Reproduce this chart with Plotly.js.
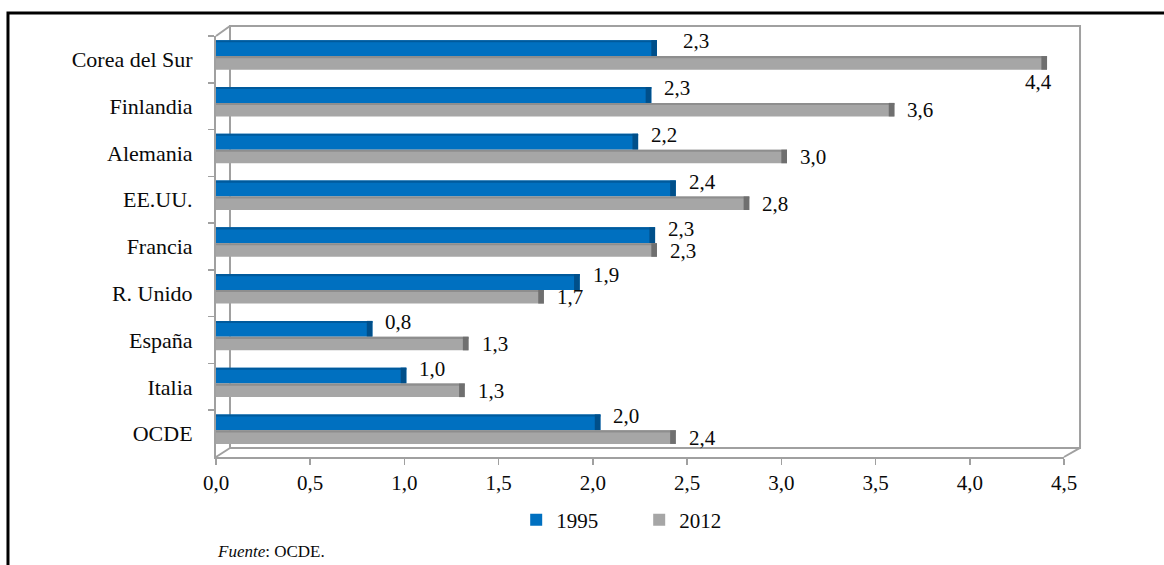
<!DOCTYPE html>
<html>
<head>
<meta charset="utf-8">
<script src="https://cdn.plot.ly/plotly-3.0.1.min.js"></script>
<style>html,body{margin:0;padding:0;background:#fff;}#chart{width:1164px;height:565px;}</style>
</head>
<body>
<div id="chart"></div>
<script>
// ---- data ----
const categories = ["Corea del Sur", "Finlandia", "Alemania", "EE.UU.", "Francia", "R. Unido", "España", "Italia", "OCDE"];
const values1995 = [2.34, 2.31, 2.24, 2.44, 2.33, 1.93, 0.83, 1.01, 2.04];
const values2012 = [4.41, 3.60, 3.03, 2.83, 2.34, 1.74, 1.34, 1.32, 2.44];
const seriesNames = ["1995", "2012"];
const xTicks = [0, 0.5, 1, 1.5, 2, 2.5, 3, 3.5, 4, 4.5];

// ---- style ----
const serif = "Liberation Serif, Times New Roman, serif";
const txt = "#0a0a0a";
const blue = "#0070c0", blueDark = "#004f8a", blueTop = "#005a9c";
const grey = "#a6a6a6", greyDark = "#6f6f6f", greyTop = "#8e8e8e";
const capW = 0.03;

const off1 = -0.41, w1 = 0.34, off2 = -0.07, w2 = 0.29;

function makeBar(name, vals, color, off, w, show) {
  return {type: "bar", orientation: "h", name: name, y: categories, x: vals,
    marker: {color: color, line: {width: 0}}, offset: off, width: w,
    showlegend: show, hoverinfo: "x+y"};
}
function makeCap(vals, color, off, w) {
  return {type: "bar", orientation: "h", y: categories, x: vals.map(() => capW),
    base: vals.map(v => v - capW), marker: {color: color, line: {width: 0}},
    offset: off, width: w, showlegend: false, hoverinfo: "skip"};
}
function makeTopEdge(vals, color, off) {
  return {type: "bar", orientation: "h", y: categories, x: vals,
    marker: {color: color, line: {width: 0}}, offset: off, width: 0.045,
    showlegend: false, hoverinfo: "skip"};
}

const traces = [
  makeBar(seriesNames[0], values1995, blue, off1, w1, true),
  makeTopEdge(values1995, blueTop, off1),
  makeCap(values1995, blueDark, off1, w1),
  makeBar(seriesNames[1], values2012, grey, off2, w2, true),
  makeTopEdge(values2012, greyTop, off2),
  makeCap(values2012, greyDark, off2, w2)
];

const labelFont = {family: serif, size: 21, color: txt};
const fmt = v => v.toFixed(1).replace(".", ",");
const annotations = [];
categories.forEach((c, i) => {
  annotations.push({x: values1995[i], y: c, xref: "x", yref: "y", text: fmt(values1995[i]),
    showarrow: false, xanchor: "left", yanchor: "middle", xshift: i === 0 ? 24 : 11, yshift: 18,
    font: labelFont});
  if (i === 0) {
    annotations.push({x: values2012[i], y: c, xref: "x", yref: "y", text: fmt(values2012[i]),
      showarrow: false, xanchor: "center", yanchor: "middle", xshift: -9, yshift: -23,
      font: labelFont});
  } else {
    annotations.push({x: values2012[i], y: c, xref: "x", yref: "y", text: fmt(values2012[i]),
      showarrow: false, xanchor: "left", yanchor: "middle", xshift: 11, yshift: -4,
      font: labelFont});
  }
});
annotations.push({xref: "paper", yref: "paper", x: -0.001, y: -0.2233, xanchor: "left", yanchor: "middle",
  text: "<i>Fuente</i>: OCDE.", showarrow: false, font: {family: serif, size: 17, color: txt}});

const wall = "#a0a0a0";
const shapes = [
  {type: "rect", xref: "paper", yref: "paper", x0: -0.2453, x1: 1.3, y0: -0.5, y1: 1.0546,
   line: {color: "#000", width: 3}, layer: "below"},
  {type: "rect", xref: "paper", yref: "paper", x0: 0.0165, x1: 1.0189, y0: 0.0214, y1: 1.0238,
   line: {color: wall, width: 2}, layer: "below"},
  {type: "line", xref: "paper", yref: "paper", x0: 0, y0: 1.0, x1: 0.0165, y1: 1.0238,
   line: {color: wall, width: 2}},
  {type: "line", xref: "paper", yref: "paper", x0: 0, y0: 0, x1: 0.0165, y1: 0.0214,
   line: {color: wall, width: 2}},
  {type: "line", xref: "paper", yref: "paper", x0: 1, y0: 0, x1: 1.0189, y1: 0.0214,
   line: {color: wall, width: 2}}
];

const layout = {
  width: 1164, height: 565,
  margin: {l: 216, r: 100, t: 36, b: 108},
  paper_bgcolor: "#fff", plot_bgcolor: "rgba(0,0,0,0)",
  separators: ",.",
  barmode: "overlay",
  showlegend: true,
  legend: {orientation: "h", x: 0.354, y: -0.15, xanchor: "left", yanchor: "middle",
    entrywidth: 78, entrywidthmode: "pixels", font: {family: serif, size: 21, color: txt},
    bgcolor: "rgba(0,0,0,0)"},
  xaxis: {range: [0, 4.5], tickvals: xTicks, tickformat: ".1f", ticks: "outside", ticklen: 6,
    tickcolor: wall, tickwidth: 1.5, showline: true, linecolor: wall, linewidth: 2,
    showgrid: false, zeroline: false, fixedrange: true,
    tickfont: {family: serif, size: 21, color: txt}},
  yaxis: {type: "category", categoryorder: "array", categoryarray: categories,
    range: [categories.length - 0.5, -0.5], tickson: "boundaries", ticks: "outside", ticklen: 6,
    tickcolor: wall, tickwidth: 1.5, showline: true, linecolor: wall, linewidth: 2,
    showgrid: false, zeroline: false, fixedrange: true, ticklabelstandoff: 17,
    tickfont: {family: serif, size: 22, color: txt}},
  shapes: shapes,
  annotations: annotations
};

Plotly.newPlot("chart", traces, layout, {displayModeBar: false, staticPlot: true});
</script>
</body>
</html>
